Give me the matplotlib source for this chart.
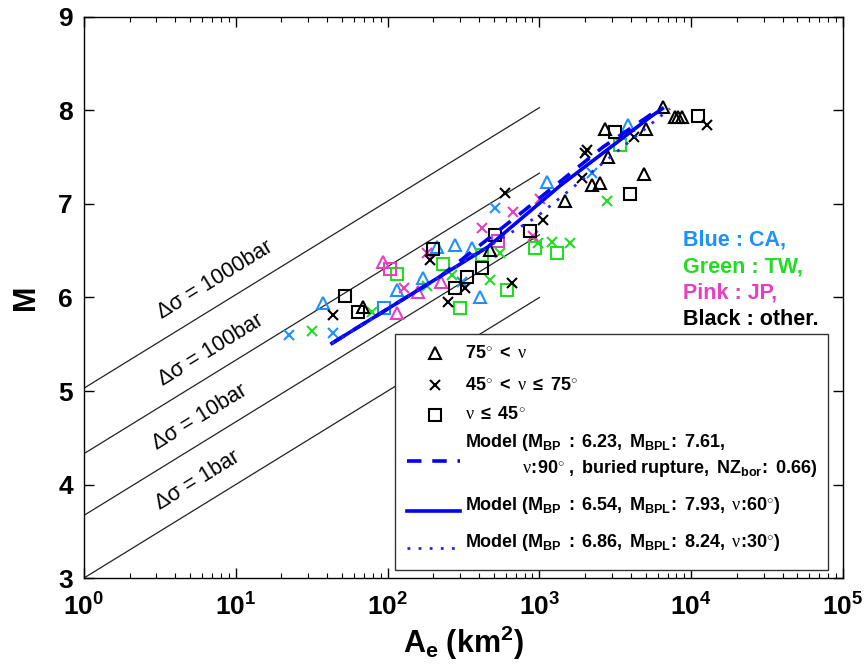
import matplotlib
matplotlib.use('Agg')
import matplotlib.pyplot as plt
from matplotlib.patches import Rectangle

plt.rcParams['font.family'] = ['Liberation Sans', 'DejaVu Sans']
plt.rcParams['mathtext.fontset'] = 'custom'
plt.rcParams['mathtext.rm'] = 'Liberation Sans:bold'
plt.rcParams['mathtext.bf'] = 'Liberation Sans:bold'
plt.rcParams['mathtext.sf'] = 'Liberation Sans:bold'
plt.rcParams['mathtext.it'] = 'Liberation Serif'

# ---------------- data ----------------
# stress-drop reference lines (A from 1 to 1000 km^2)
ref_area = [1, 1000]
ref_M = {'1bar': [3.00, 6.00], '10bar': [3.67, 6.67],
         '100bar': [4.33, 7.33], '1000bar': [5.03, 8.03]}
ref_label_A = {'1000bar': 7.3, '100bar': 6.9, '10bar': 5.8, '1bar': 5.6}
ref_label_M = {'1000bar': 6.19, '100bar': 5.44, '10bar': 4.72, '1bar': 4.04}

# model curves
model_dash_A = [43, 224, 794, 2630, 6310]
model_dash_M = [5.51, 6.23, 6.93, 7.61, 8.03]
model_solid_A = [43, 457, 1380, 5370, 6460]
model_solid_M = [5.51, 6.54, 7.20, 7.93, 8.02]
model_dot_A = [43, 457, 955, 3800, 7240]
model_dot_M = [5.51, 6.54, 6.86, 7.65, 8.02]

# CA (blue)
ca_tri_A = [37.5, 115, 171, 212, 278, 360, 406, 1122, 3835]
ca_tri_M = [5.94, 6.08, 6.21, 6.54, 6.56, 6.53, 6.01, 7.24, 7.84]
ca_x_A = [22.4, 43.7, 510, 2222, 309]
ca_x_M = [5.60, 5.62, 6.96, 7.33, 6.17]
ca_sq_A = [94.6]
ca_sq_M = [5.89]

# TW (green)
tw_x_A = [31.8, 78.9, 182, 266, 473, 550, 979, 1211, 1592, 2789]
tw_x_M = [5.64, 5.84, 6.12, 6.24, 6.19, 6.48, 6.58, 6.59, 6.58, 7.03]
tw_sq_A = [115, 232, 300, 419, 612, 935, 1306, 3396]
tw_sq_M = [6.25, 6.36, 5.89, 6.45, 6.08, 6.53, 6.48, 7.63]

# JP (pink)
jp_tri_A = [93.3, 115, 158, 225]
jp_tri_M = [6.38, 5.83, 6.06, 6.17]
jp_x_A = [128, 182, 419, 670, 907, 1009]
jp_x_M = [6.10, 6.48, 6.74, 6.91, 6.66, 7.05]
jp_sq_A = [104, 534]
jp_sq_M = [6.30, 6.60]

# other (black)
ot_tri_A = [68.9, 473, 1475, 2222, 2507, 2831, 2706, 5035, 4888, 6516, 7819, 8185, 8690]
ot_tri_M = [5.90, 6.51, 7.03, 7.20, 7.22, 7.50, 7.80, 7.80, 7.32, 8.04, 7.93, 7.93, 7.93]
ot_x_A = [43.7, 190, 324, 250, 593, 1056, 1909, 2061, 1995, 4200, 12700, 660]
ot_x_M = [5.81, 6.40, 6.10, 5.95, 7.12, 6.83, 7.28, 7.58, 7.55, 7.72, 7.84, 6.16]
ot_sq_A = [52.4, 63.8, 199, 334, 278, 419, 510, 867, 3148, 3953, 11092]
ot_sq_M = [6.02, 5.84, 6.52, 6.22, 6.10, 6.32, 6.67, 6.71, 7.77, 7.11, 7.94]

region_labels = ['Blue : CA,', 'Green : TW,', 'Pink : JP,', 'Black : other.']

C_BLUE = '#1E90FF'
C_GREEN = '#22DD22'
C_PINK = '#E83FBF'
C_BLACK = '#000000'

# ---------------- figure ----------------
fig = plt.figure(figsize=(8.64, 6.68), dpi=100)
ax = fig.add_axes([0.0972, 0.1347, 0.8785, 0.8399])
ax.set_xscale('log')
ax.set_xlim(1, 1e5)
ax.set_ylim(3, 9)

for key in ['1bar', '10bar', '100bar', '1000bar']:
    ax.plot(ref_area, ref_M[key], color='#222222', lw=0.9, zorder=1)
    ax.text(ref_label_A[key], ref_label_M[key], '\u0394\u03c3 = ' + key,
            rotation=31.6, rotation_mode='anchor', ha='center', va='center',
            fontsize=15.5, color='black', zorder=2)

ms_tri, ms_x, ms_sq, mew = 9, 7, 8, 1.5

def pts(A, M, marker, color, ms):
    ax.plot(A, M, ls='none', marker=marker, mfc='none', mec=color,
            ms=ms, mew=mew, zorder=3)

pts(ca_tri_A, ca_tri_M, '^', C_BLUE, ms_tri)
pts(ca_x_A, ca_x_M, 'x', C_BLUE, ms_x)
pts(ca_sq_A, ca_sq_M, 's', C_BLUE, ms_sq)
pts(tw_x_A, tw_x_M, 'x', C_GREEN, ms_x)
pts(tw_sq_A, tw_sq_M, 's', C_GREEN, ms_sq)
pts(jp_tri_A, jp_tri_M, '^', C_PINK, ms_tri)
pts(jp_x_A, jp_x_M, 'x', C_PINK, ms_x)
pts(jp_sq_A, jp_sq_M, 's', C_PINK, ms_sq)
pts(ot_tri_A, ot_tri_M, '^', C_BLACK, ms_tri)
pts(ot_x_A, ot_x_M, 'x', C_BLACK, ms_x)
pts(ot_sq_A, ot_sq_M, 's', C_BLACK, ms_sq)

ax.plot(model_solid_A, model_solid_M, color='#0000FF', lw=2.6, zorder=4)
ax.plot(model_dash_A, model_dash_M, color='#0000FF', lw=2.6, dashes=(4, 3), zorder=4)
ax.plot(model_dot_A, model_dot_M, color='#2222FF', lw=2.0, dashes=(1, 3), zorder=4)

# region labels
reg_colors = [C_BLUE, C_GREEN, C_PINK, C_BLACK]
reg_y = [0.602, 0.554, 0.508, 0.460]
for lab, c, y in zip(region_labels, reg_colors, reg_y):
    ax.text(0.789, y, lab, transform=ax.transAxes, color=c, fontsize=15.5,
            fontweight='bold', ha='left', va='center')

# legend (drawn by hand)
ax.add_patch(Rectangle((0.41, 0.014), 0.57, 0.421, transform=ax.transAxes,
                       facecolor='white', edgecolor='#333333', lw=1.0, zorder=6))
mx = 0.462
tx = 0.502
fs = 13
ax.plot([mx], [0.401], transform=ax.transAxes, marker='^', mfc='none', mec='k',
        ms=ms_tri, mew=mew, zorder=7)
ax.plot([mx], [0.344], transform=ax.transAxes, marker='x', mfc='none', mec='k',
        ms=ms_x, mew=mew, zorder=7)
ax.plot([mx], [0.291], transform=ax.transAxes, marker='s', mfc='none', mec='k',
        ms=ms_sq, mew=mew, zorder=7)
ax.text(tx, 0.401, r'$75^{\circ}\ <\ \nu$', transform=ax.transAxes, fontsize=fs,
        va='center', ha='left', zorder=7)
ax.text(tx, 0.344, r'$45^{\circ}\ <\ \nu\ \leq\ 75^{\circ}$', transform=ax.transAxes,
        fontsize=fs, va='center', ha='left', zorder=7)
ax.text(tx, 0.291, r'$\nu\ \leq\ 45^{\circ}$', transform=ax.transAxes, fontsize=fs,
        va='center', ha='left', zorder=7)

ax.plot([0.425, 0.495], [0.209, 0.209], transform=ax.transAxes, color='#0000FF',
        lw=2.6, dashes=(4, 3), zorder=7)
ax.text(tx, 0.242, r'$\mathrm{Model\ (M_{BP}\ :\ 6.23,\ M_{BPL}}\!\mathrm{:\ 7.61,}$',
        transform=ax.transAxes, fontsize=fs, va='center', ha='left', zorder=7)
ax.text(0.577, 0.196, r'$\nu\!\mathrm{:}\!\mathrm{90^{\circ}\ ,\ buried\ rupture,\ NZ_{bor}}\!\mathrm{:\ 0.66)}$',
        transform=ax.transAxes, fontsize=fs, va='center', ha='left', zorder=7)

ax.plot([0.425, 0.495], [0.119, 0.119], transform=ax.transAxes, color='#0000FF',
        lw=2.6, zorder=7)
ax.text(tx, 0.130, r'$\mathrm{Model\ (M_{BP}\ :\ 6.54,\ M_{BPL}}\!\mathrm{:\ 7.93,\ }\nu\!\mathrm{:}\!\mathrm{60^{\circ})}$',
        transform=ax.transAxes, fontsize=fs, va='center', ha='left', zorder=7)

ax.plot([0.425, 0.495], [0.053, 0.053], transform=ax.transAxes, color='#2222FF',
        lw=2.0, dashes=(1, 3), zorder=7)
ax.text(tx, 0.064, r'$\mathrm{Model\ (M_{BP}\ :\ 6.86,\ M_{BPL}}\!\mathrm{:\ 8.24,\ }\nu\!\mathrm{:}\!\mathrm{30^{\circ})}$',
        transform=ax.transAxes, fontsize=fs, va='center', ha='left', zorder=7)

# axes styling
ax.set_yticks([3, 4, 5, 6, 7, 8, 9])
ax.tick_params(which='both', direction='in', top=True, right=True)
ax.tick_params(which='major', length=7, width=1, labelsize=19)
ax.tick_params(axis='x', which='major', pad=11)
ax.tick_params(axis='y', which='major', pad=8)
ax.tick_params(which='minor', length=3.5, width=0.8)
for lab in ax.get_xticklabels() + ax.get_yticklabels():
    lab.set_fontweight('bold')
for s in ax.spines.values():
    s.set_linewidth(1.0)

ax.set_ylabel('M', fontsize=22, fontweight='bold', labelpad=12)
ax.set_xlabel(r'$\mathdefault{A_e\ (km^2)}$', fontsize=22, fontweight='bold', labelpad=2)

fig.savefig('out.png', dpi=100)
